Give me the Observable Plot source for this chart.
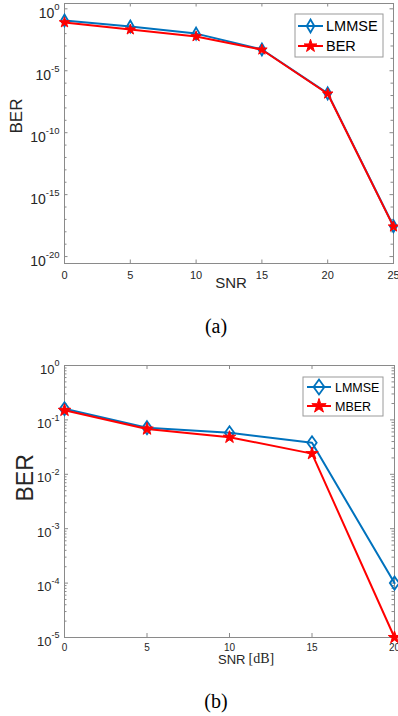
<!DOCTYPE html>
<html><head><meta charset="utf-8">
<script src="https://cdn.jsdelivr.net/npm/d3@7"></script>
<script src="https://cdn.jsdelivr.net/npm/@observablehq/plot@0.6"></script>
<style>
body{margin:0;background:#fff;}
#wrap{position:relative;width:398px;height:716px;overflow:hidden;font-family:"Liberation Sans",Arial,sans-serif;}
#wrap svg{position:absolute;left:0;}
.cap{position:absolute;left:116px;width:200px;text-align:center;font-family:"Liberation Serif","Times New Roman",serif;font-size:20px;line-height:20px;color:#000;}
</style></head><body><div id="wrap"></div>
<script>
// ---- data (a) ----
const snrA = [0, 5, 10, 15, 20, 25];
const lmmseA = [0.115, 0.037, 0.010, 5.2e-4, 1.5e-7, 2.8e-18];
const berA = [0.08, 0.021, 0.0059, 5.0e-4, 1.4e-7, 2.6e-18];
const xTicksA = [0, 5, 10, 15, 20, 25];
const yExpA = [0, -5, -10, -15, -20];
const legendA = ["LMMSE", "BER"];
// ---- data (b) ----
const snrB = [0, 5, 10, 15, 20];
const lmmseB = [0.16, 0.072, 0.058, 0.038, 1.0e-4];
const mberB = [0.15, 0.068, 0.048, 0.024, 1.0e-5];
const xTicksB = [0, 5, 10, 15, 20];
const yExpB = [0, -1, -2, -3, -4, -5];
const legendB = ["LMMSE", "MBER"];

const GRAY = "#8a8a8a", BLUE = "#0072BD", RED = "#FF0000";
function diamond(ratio) {
  return {draw(ctx, size) {
    const r = Math.sqrt(size / Math.PI), w = r * ratio;
    ctx.moveTo(0, -r); ctx.lineTo(w, 0); ctx.lineTo(0, r); ctx.lineTo(-w, 0); ctx.closePath();
  }};
}
const wrap = document.getElementById("wrap");

function makeChart(o) {
  const pw = o.W - o.ml - o.mr, ph = o.H - o.mt - o.mb;
  const rows = o.snr.map((s, i) => ({snr: s, a: o.s1[i], b: o.s2[i]}));
  const yMajor = o.yExp.map(e => 10 ** e);
  const svg = Plot.plot({
    width: o.W, height: o.H,
    marginTop: o.mt, marginRight: o.mr, marginBottom: o.mb, marginLeft: o.ml,
    style: {background: "transparent", color: "#262626", fontFamily: "'Liberation Sans', Arial, sans-serif"},
    x: {domain: o.xDomain, label: null},
    y: {type: "log", domain: o.yDomain, label: null},
    marks: [
      Plot.frame({stroke: GRAY}),
      Plot.tickX(o.xTicks, {x: d => d, stroke: GRAY, insetTop: ph - o.tl}),
      Plot.tickX(o.xTicks, {x: d => d, stroke: GRAY, insetBottom: ph - o.tl}),
      Plot.tickY(yMajor, {y: d => d, stroke: GRAY, insetRight: pw - o.tl}),
      Plot.tickY(yMajor, {y: d => d, stroke: GRAY, insetLeft: pw - o.tl}),
      Plot.tickY(o.yMinor, {y: d => d, stroke: GRAY, insetRight: pw - o.tm}),
      Plot.tickY(o.yMinor, {y: d => d, stroke: GRAY, insetLeft: pw - o.tm}),
      Plot.axisX(o.xTicks, {tickSize: 0, tickPadding: o.xpad, fontSize: o.xfs, label: null, tickFormat: d => String(d)}),
      Plot.axisY(yMajor, {tickSize: 0, tickPadding: 5, fontSize: o.yfs, label: null, tickFormat: d => "10^" + Math.round(Math.log10(d))}),
      Plot.line(rows, {x: "snr", y: "a", stroke: BLUE, strokeWidth: 2}),
      Plot.dot(rows, {x: "snr", y: "a", symbol: diamond(o.dRatio), r: o.dR, stroke: BLUE, strokeWidth: 1.8, fill: "none"}),
      Plot.line(rows, {x: "snr", y: "b", stroke: RED, strokeWidth: 2}),
      Plot.dot(rows, {x: "snr", y: "b", symbol: "star", r: o.sR, stroke: RED, strokeWidth: 1, fill: RED}),
      Plot.text([o.ylabel], {frameAnchor: "left", text: d => d, rotate: -90, dx: o.ylDx, fontSize: o.ylfs, fill: "#262626"}),
      ...o.extra
    ]
  });
  svg.style.top = o.top + "px";
  // superscript exponents on y tick labels
  d3.select(svg).selectAll('g[aria-label="y-axis tick label"] text').each(function () {
    const e = this.textContent.split("^")[1];
    const t = d3.select(this);
    t.text(null);
    t.append("tspan").attr("dy", o.baseDy).text("10");
    t.append("tspan").attr("dy", o.expDy).attr("font-size", o.efs).text(e);
  });
  // legend
  const L = o.leg;
  const g = d3.select(svg).append("g").attr("text-anchor", "start");
  g.append("rect").attr("x", L.x).attr("y", L.y).attr("width", L.w).attr("height", L.h)
    .attr("fill", "white").attr("stroke", "#9a9a9a").attr("stroke-width", 1);
  const entries = [
    {label: o.legend[0], color: BLUE, sym: diamond(o.dRatio), size: Math.PI * L.dR * L.dR, fill: "none", sw: 1.8},
    {label: o.legend[1], color: RED, sym: d3.symbolStar, size: Math.PI * L.sR * L.sR, fill: RED, sw: 1}
  ];
  entries.forEach((en, i) => {
    const yy = L.rows[i], cx = (L.x1 + L.x2) / 2;
    g.append("line").attr("x1", L.x1).attr("x2", L.x2).attr("y1", yy).attr("y2", yy)
      .attr("stroke", en.color).attr("stroke-width", 2);
    g.append("path").attr("d", d3.symbol(en.sym, en.size)()).attr("transform", `translate(${cx},${yy})`)
      .attr("fill", en.fill).attr("stroke", en.color).attr("stroke-width", en.sw);
    g.append("text").attr("x", L.tx).attr("y", yy).attr("dy", "0.36em").attr("font-size", L.fs)
      .attr("text-anchor", "start").attr("fill", "#000").text(en.label);
  });
  wrap.appendChild(svg);
  return svg;
}

// minor tick positions
const yMinorA = d3.range(0, -21, -1).filter(e => e % 5 !== 0).map(e => 10 ** e);
const yMinorB = [];
for (let e = -5; e < 0; e++) for (let k = 2; k <= 9; k++) yMinorB.push(k * 10 ** e);

makeChart({
  top: 0, W: 398, H: 300, mt: 3, mr: 5, mb: 37, ml: 64,
  snr: snrA, s1: lmmseA, s2: berA,
  xDomain: [0, 25], yDomain: [10 ** -20.56, 10 ** 0.43],
  xTicks: xTicksA, yExp: yExpA, yMinor: yMinorA, tl: 3.5, tm: 2.5,
  xpad: 8, xfs: 11, yfs: 14, efs: 9.5, baseDy: "4.5", expDy: "-8",
  dRatio: 0.58, dR: 6, sR: 3.3,
  ylabel: "BER", ylDx: -48, ylfs: 17,
  legend: legendA,
  leg: {x: 295, y: 14, w: 88, h: 43, rows: [26, 46], x1: 298, x2: 323, tx: 326, fs: 14.5, dR: 6.5, sR: 4},
  extra: [
    Plot.text(["SNR"], {frameAnchor: "bottom", text: d => d, dy: 24, dx: 2, fontSize: 15, fill: "#262626"})
  ]
});

makeChart({
  top: 340, W: 398, H: 340, mt: 25, mr: 4, mb: 43, ml: 64,
  snr: snrB, s1: lmmseB, s2: mberB,
  xDomain: [0, 20], yDomain: [1e-5, 1],
  xTicks: xTicksB, yExp: yExpB, yMinor: yMinorB, tl: 4, tm: 2.5,
  xpad: 6, xfs: 10, yfs: 13, efs: 9, baseDy: "4", expDy: "-7.5",
  dRatio: 0.72, dR: 6.5, sR: 3.9,
  ylabel: "BER", ylDx: -39, ylfs: 23,
  legend: legendB,
  leg: {x: 303, y: 37, w: 80, h: 39, rows: [47, 66], x1: 307, x2: 331, tx: 335, fs: 12.5, dR: 7.5, sR: 4.5},
  extra: [
    Plot.text(["SNR"], {frameAnchor: "bottom", text: d => d, dy: 26, dx: 16, textAnchor: "end", fontSize: 13, fill: "#262626"}),
    Plot.text(["[dB]"], {frameAnchor: "bottom", text: d => d, dy: 25, dx: 19, textAnchor: "start", fontSize: 14, fill: "#262626", fontFamily: "'Liberation Serif', 'Times New Roman', serif"})
  ]
});

const capA = document.createElement("div");
capA.className = "cap"; capA.style.top = "316px"; capA.textContent = "(a)";
wrap.appendChild(capA);
const capB = document.createElement("div");
capB.className = "cap"; capB.style.top = "691px"; capB.textContent = "(b)";
wrap.appendChild(capB);
</script>
</body></html>
